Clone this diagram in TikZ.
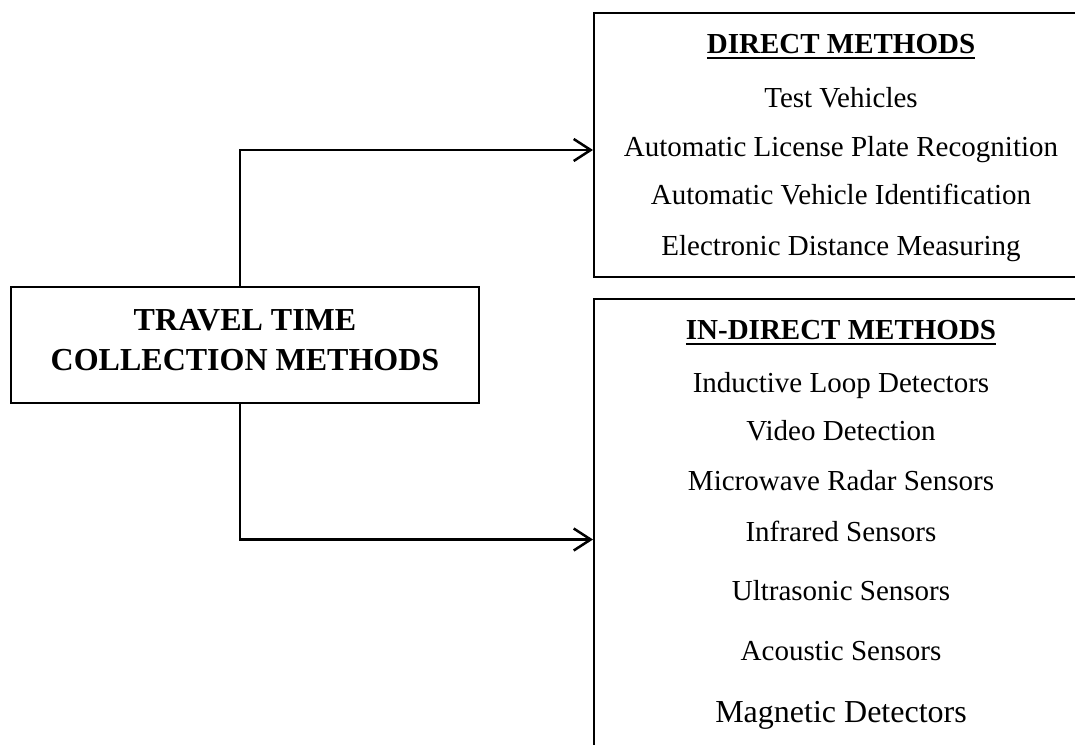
\documentclass[tikz,border=0pt]{standalone}
\usepackage{fontspec}
\setmainfont{Liberation Serif}
\usetikzlibrary{arrows.meta}
\newcommand\headline[1]{\setbox0=\hbox{#1}\rlap{\rule[-6pt]{\wd0}{2.5pt}}\box0}

\begin{document}
\begin{tikzpicture}[x=1pt,y=-1pt,
	box/.style={draw=black,line width=2pt,inner sep=0pt},
	head/.style={anchor=base,font=\fontsize{29}{34}\selectfont\bfseries},
	item/.style={anchor=base,font=\fontsize{29}{34}\selectfont},
	link/.style={line width=2.5pt,-{Straight Barb[length=17pt,width=22pt]}}]
\useasboundingbox (0,0) rectangle (1075,744);
\clip (0,0) rectangle (1075,744);

% main box
\node[box,minimum width=468pt,minimum height=116pt] (travel) at (245,345) {};
\node[head,font=\fontsize{32}{40}\selectfont\bfseries] (travel1) at (245,330) {TRAVEL TIME};
\node[head,font=\fontsize{32}{40}\selectfont\bfseries] (travel2) at (245,370) {COLLECTION METHODS};

% direct
\node[box,minimum width=496pt,minimum height=264pt] (direct) at (842,145) {};
\node[head] (dhead) at (841,53) {\headline{DIRECT METHODS}};
\node[item] (test) at (841,107) {Test Vehicles};
\node[item] (alpr) at (841,156) {Automatic License Plate Recognition};
\node[item] (avi) at (841,204) {Automatic Vehicle Identification};
\node[item] (edm) at (841,255) {Electronic Distance Measuring};

% in-direct
\node[box,minimum width=496pt,minimum height=471pt] (indirect) at (842,534.5) {};
\node[head] (ihead) at (841,339) {\headline{IN-DIRECT METHODS}};
\node[item] (loop) at (841,392) {Inductive Loop Detectors};
\node[item] (video) at (841,440) {Video Detection};
\node[item] (radar) at (841,490) {Microwave Radar Sensors};
\node[item] (infra) at (841,541) {Infrared Sensors};
\node[item] (ultra) at (841,600) {Ultrasonic Sensors};
\node[item] (acoustic) at (841,660) {Acoustic Sensors};
\node[item,font=\fontsize{32}{38}\selectfont] (magnetic) at (841,722) {Magnetic Detectors};

\draw[link] ([xshift=-5pt]travel.north) |- ([yshift=-5pt]direct.west);
\draw[link] ([xshift=-5pt]travel.south) |- ([yshift=-5pt]indirect.west);
\end{tikzpicture}
\end{document}
